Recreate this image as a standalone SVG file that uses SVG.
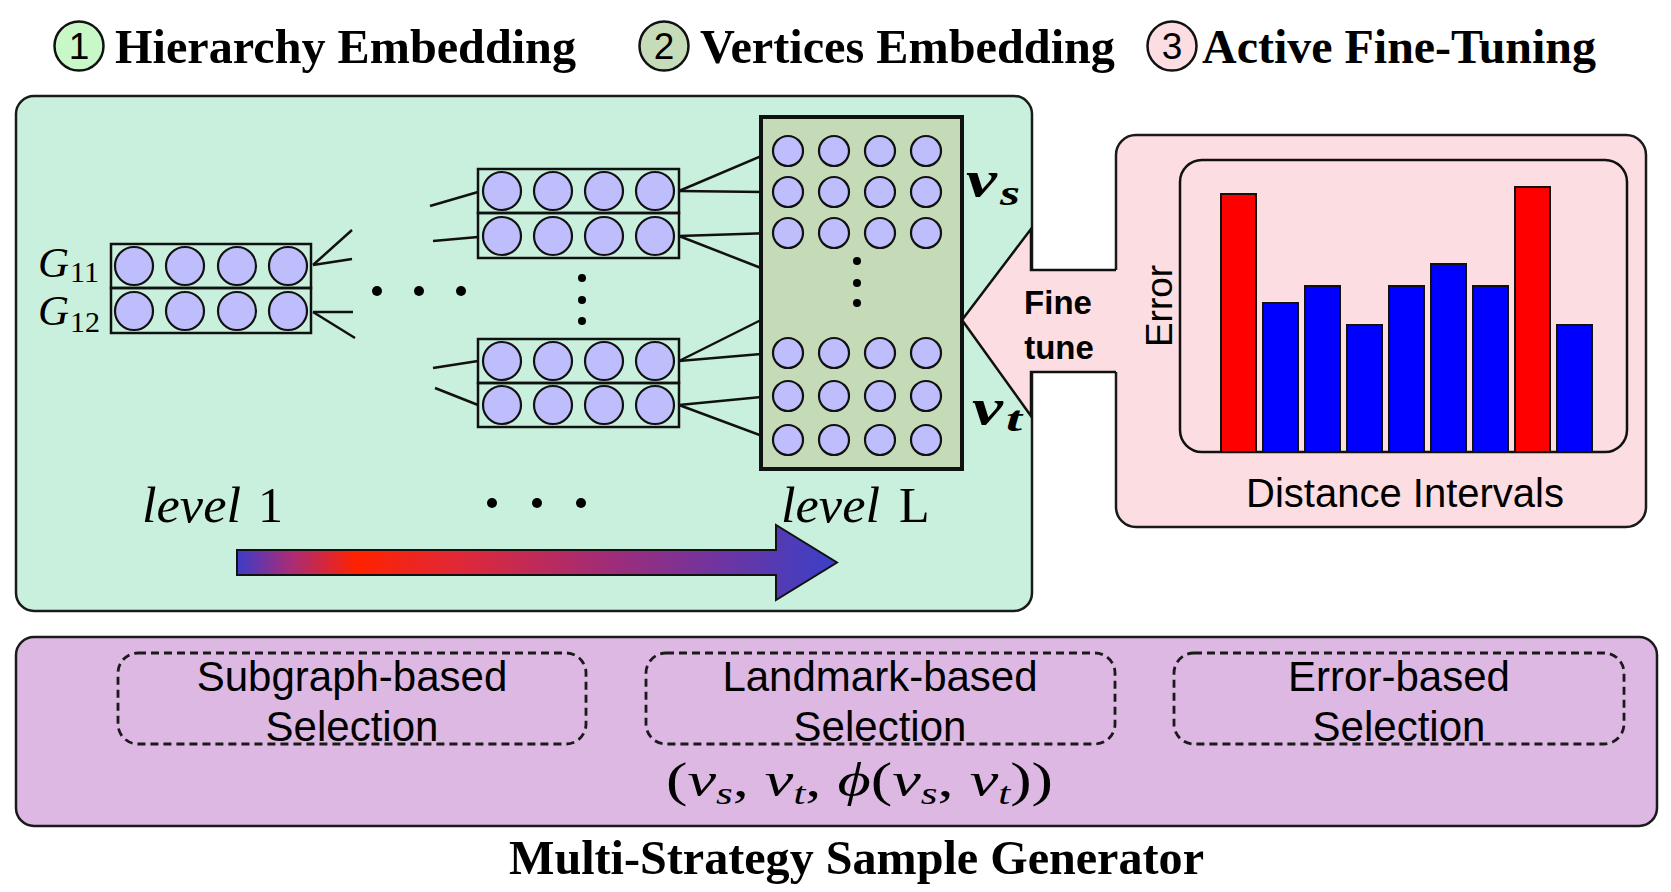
<svg xmlns="http://www.w3.org/2000/svg" width="1671" height="892" viewBox="0 0 1671 892">
<defs>
<linearGradient id="grad" gradientUnits="userSpaceOnUse" x1="237" y1="0" x2="837" y2="0">
<stop offset="0" stop-color="#3c3cc8"/>
<stop offset="0.09" stop-color="#a82c78"/>
<stop offset="0.2" stop-color="#ff2200"/>
<stop offset="0.37" stop-color="#e02838"/>
<stop offset="0.62" stop-color="#a02c78"/>
<stop offset="0.8" stop-color="#7034a0"/>
<stop offset="1" stop-color="#3a40c8"/>
</linearGradient>
<style>
.panel{stroke:#1a1a1a;stroke-width:2.5}
.row{fill:none;stroke:#111;stroke-width:2.5}
.nd{fill:#bebefc;stroke:#111;stroke-width:2.2}
.conn line{stroke:#111;stroke-width:2.5}
.dot{fill:#000}
.dash{fill:none;stroke:#1a1a1a;stroke-width:2.8;stroke-dasharray:8 5}
.bar{stroke:#111;stroke-width:2}
.ttl{font-family:"Liberation Serif",serif;font-weight:bold;font-size:48px;fill:#000}
.num{font-family:"Liberation Sans",sans-serif;font-size:37px;fill:#000;text-anchor:middle}
.sans{font-family:"Liberation Sans",sans-serif;fill:#000}
.serif{font-family:"Liberation Serif",serif;fill:#000}
.bi{font-family:"Liberation Serif",serif;font-weight:bold;font-style:italic;fill:#000}
</style>
</defs>
<rect width="1671" height="892" fill="#ffffff"/>

<g id="legend">
<circle cx="79" cy="46" r="24.5" fill="#c8f8c8" stroke="#111" stroke-width="2.5"/>
<text class="num" x="79" y="59">1</text>
<text class="ttl" x="115" y="63" textLength="461" lengthAdjust="spacingAndGlyphs">Hierarchy Embedding</text>
<circle cx="664" cy="46" r="24.5" fill="#c6dcb8" stroke="#111" stroke-width="2.5"/>
<text class="num" x="664" y="59">2</text>
<text class="ttl" x="700" y="63" textLength="415" lengthAdjust="spacingAndGlyphs">Vertices Embedding</text>
<circle cx="1172" cy="46" r="24.5" fill="#fcdde2" stroke="#111" stroke-width="2.5"/>
<text class="num" x="1172" y="59">3</text>
<text class="ttl" x="1202" y="63" textLength="394" lengthAdjust="spacingAndGlyphs">Active Fine-Tuning</text>
</g>

<g id="hierarchy-panel">
<rect class="panel" x="16" y="96" width="1016" height="515" rx="18" fill="#c9f0dc"/>
</g>

<g id="finetune-panel">
<rect class="panel" x="1116" y="135" width="530" height="392" rx="20" fill="#fcdde2"/>
<rect x="1180" y="160" width="447" height="292" rx="22" fill="none" stroke="#111" stroke-width="2.5"/>
<g id="bars">
<rect class="bar" x="1221" y="194" width="35" height="258" fill="#ff0000"/>
<rect class="bar" x="1263" y="303" width="35" height="149" fill="#0000ff"/>
<rect class="bar" x="1305" y="286" width="35" height="166" fill="#0000ff"/>
<rect class="bar" x="1347" y="325" width="35" height="127" fill="#0000ff"/>
<rect class="bar" x="1389" y="286" width="35" height="166" fill="#0000ff"/>
<rect class="bar" x="1431" y="264" width="35" height="188" fill="#0000ff"/>
<rect class="bar" x="1473" y="286" width="35" height="166" fill="#0000ff"/>
<rect class="bar" x="1515" y="187" width="35" height="265" fill="#ff0000"/>
<rect class="bar" x="1557" y="325" width="35" height="127" fill="#0000ff"/>
</g>
<text class="sans" x="0" y="0" font-size="37" text-anchor="middle" transform="translate(1172 306) rotate(-90)">Error</text>
<text class="sans" x="1405" y="507" font-size="40" text-anchor="middle">Distance Intervals</text>
</g>

<g id="fine-tune-arrow">
<polygon points="962,320 1031,229 1031,270 1120,270 1120,372 1031,372 1031,416" fill="#fcdde2"/>
<polyline points="1116,270 1031,270 1031,229 962,320 1031,416 1031,372 1116,372" fill="none" stroke="#111" stroke-width="2.5" stroke-linejoin="miter"/>
<text class="sans" x="1058" y="314" font-size="33" font-weight="bold" text-anchor="middle">Fine</text>
<text class="sans" x="1059" y="359" font-size="33" font-weight="bold" text-anchor="middle">tune</text>
</g>

<g class="conn" id="connectors">
<line x1="313" y1="265" x2="352" y2="230"/>
<line x1="313" y1="265" x2="352" y2="259"/>
<line x1="313" y1="312" x2="353" y2="312"/>
<line x1="313" y1="312" x2="355" y2="338"/>
<line x1="430" y1="206" x2="478" y2="192"/>
<line x1="433" y1="241" x2="478" y2="237"/>
<line x1="433" y1="368" x2="478" y2="361"/>
<line x1="435" y1="388" x2="478" y2="405"/>
<line x1="679" y1="191" x2="773" y2="151"/>
<line x1="679" y1="191" x2="773" y2="192"/>
<line x1="679" y1="236" x2="773" y2="233"/>
<line x1="679" y1="236" x2="761" y2="268"/>
<line x1="679" y1="361" x2="761" y2="320"/>
<line x1="679" y1="361" x2="773" y2="353"/>
<line x1="679" y1="405" x2="773" y2="396"/>
<line x1="679" y1="405" x2="773" y2="440"/>
</g>

<g id="level1-block">
<rect class="row" x="111" y="244" width="200" height="44"/>
<rect class="row" x="111" y="288" width="200" height="45"/>
<circle class="nd" cx="134" cy="266" r="19"/><circle class="nd" cx="185" cy="266" r="19"/><circle class="nd" cx="237" cy="266" r="19"/><circle class="nd" cx="288" cy="266" r="19"/>
<circle class="nd" cx="134" cy="311" r="19"/><circle class="nd" cx="185" cy="311" r="19"/><circle class="nd" cx="237" cy="311" r="19"/><circle class="nd" cx="288" cy="311" r="19"/>
<text class="serif" x="38" y="277" font-size="43" font-style="italic">G</text>
<text class="serif" x="70" y="282" font-size="30">11</text>
<text class="serif" x="38" y="325" font-size="43" font-style="italic">G</text>
<text class="serif" x="70" y="332" font-size="30">12</text>
</g>

<g id="dots">
<circle class="dot" cx="377" cy="291" r="5"/><circle class="dot" cx="419" cy="291" r="5"/><circle class="dot" cx="461" cy="291" r="5"/>
<circle class="dot" cx="582" cy="278" r="4"/><circle class="dot" cx="582" cy="300" r="4"/><circle class="dot" cx="582" cy="321" r="4"/>
<circle class="dot" cx="492" cy="503" r="5"/><circle class="dot" cx="537" cy="503" r="5"/><circle class="dot" cx="581" cy="503" r="5"/>
</g>

<g id="level2-upper">
<rect class="row" x="478" y="169" width="201" height="44"/>
<rect class="row" x="478" y="213" width="201" height="45"/>
<circle class="nd" cx="502" cy="191" r="19"/><circle class="nd" cx="553" cy="191" r="19"/><circle class="nd" cx="604" cy="191" r="19"/><circle class="nd" cx="655" cy="191" r="19"/>
<circle class="nd" cx="502" cy="236" r="19"/><circle class="nd" cx="553" cy="236" r="19"/><circle class="nd" cx="604" cy="236" r="19"/><circle class="nd" cx="655" cy="236" r="19"/>
</g>

<g id="level2-lower">
<rect class="row" x="478" y="339" width="201" height="44"/>
<rect class="row" x="478" y="383" width="201" height="44"/>
<circle class="nd" cx="502" cy="361" r="19"/><circle class="nd" cx="553" cy="361" r="19"/><circle class="nd" cx="604" cy="361" r="19"/><circle class="nd" cx="655" cy="361" r="19"/>
<circle class="nd" cx="502" cy="405" r="19"/><circle class="nd" cx="553" cy="405" r="19"/><circle class="nd" cx="604" cy="405" r="19"/><circle class="nd" cx="655" cy="405" r="19"/>
</g>

<g id="levelL-block">
<rect x="761" y="117" width="201" height="352" fill="#c5dbb8" stroke="#111" stroke-width="4"/>
<g>
<circle class="nd" cx="788" cy="151" r="15"/><circle class="nd" cx="834" cy="151" r="15"/><circle class="nd" cx="880" cy="151" r="15"/><circle class="nd" cx="926" cy="151" r="15"/>
<circle class="nd" cx="788" cy="192" r="15"/><circle class="nd" cx="834" cy="192" r="15"/><circle class="nd" cx="880" cy="192" r="15"/><circle class="nd" cx="926" cy="192" r="15"/>
<circle class="nd" cx="788" cy="233" r="15"/><circle class="nd" cx="834" cy="233" r="15"/><circle class="nd" cx="880" cy="233" r="15"/><circle class="nd" cx="926" cy="233" r="15"/>
<circle class="nd" cx="788" cy="353" r="15"/><circle class="nd" cx="834" cy="353" r="15"/><circle class="nd" cx="880" cy="353" r="15"/><circle class="nd" cx="926" cy="353" r="15"/>
<circle class="nd" cx="788" cy="396" r="15"/><circle class="nd" cx="834" cy="396" r="15"/><circle class="nd" cx="880" cy="396" r="15"/><circle class="nd" cx="926" cy="396" r="15"/>
<circle class="nd" cx="788" cy="440" r="15"/><circle class="nd" cx="834" cy="440" r="15"/><circle class="nd" cx="880" cy="440" r="15"/><circle class="nd" cx="926" cy="440" r="15"/>
</g>
<circle class="dot" cx="857" cy="261" r="4"/><circle class="dot" cx="857" cy="283" r="4"/><circle class="dot" cx="857" cy="303" r="4"/>
<text class="bi" x="966" y="196" font-size="50" textLength="31" lengthAdjust="spacingAndGlyphs">v</text>
<text class="bi" x="1000" y="205" font-size="36" textLength="20" lengthAdjust="spacingAndGlyphs">s</text>
<text class="bi" x="972" y="424" font-size="50" textLength="31" lengthAdjust="spacingAndGlyphs">v</text>
<text class="bi" x="1006" y="431" font-size="36" textLength="16" lengthAdjust="spacingAndGlyphs">t</text>
</g>

<g id="level-labels">
<text class="serif" x="142" y="522" font-size="50" font-style="italic" textLength="99" lengthAdjust="spacingAndGlyphs">level</text>
<text class="serif" x="258" y="522" font-size="50">1</text>
<text class="serif" x="781" y="522" font-size="50" font-style="italic" textLength="99" lengthAdjust="spacingAndGlyphs">level</text>
<text class="serif" x="899" y="522" font-size="50">L</text>
</g>

<g id="level-arrow">
<path d="M237,550 L776,550 L776,525 L837,562.5 L776,600 L776,575 L237,575 Z" fill="url(#grad)" stroke="#111" stroke-width="2"/>
</g>

<g id="sample-generator">
<rect class="panel" x="16" y="637" width="1641" height="189" rx="18" fill="#dcb8e2"/>
<rect class="dash" x="118" y="653" width="468" height="91" rx="20"/>
<rect class="dash" x="646" y="653" width="469" height="91" rx="20"/>
<rect class="dash" x="1174" y="653" width="450" height="91" rx="20"/>
<text class="sans" x="352" y="691" font-size="42" text-anchor="middle">Subgraph-based</text>
<text class="sans" x="352" y="741" font-size="42" text-anchor="middle">Selection</text>
<text class="sans" x="880" y="691" font-size="42" text-anchor="middle">Landmark-based</text>
<text class="sans" x="880" y="741" font-size="42" text-anchor="middle">Selection</text>
<text class="sans" x="1399" y="691" font-size="42" text-anchor="middle">Error-based</text>
<text class="sans" x="1399" y="741" font-size="42" text-anchor="middle">Selection</text>
<text class="serif" x="666" y="796" font-size="48" textLength="387" lengthAdjust="spacingAndGlyphs">(<tspan font-style="italic">v</tspan><tspan font-style="italic" font-size="32" dy="8">s</tspan><tspan dy="-8">, </tspan><tspan font-style="italic">v</tspan><tspan font-style="italic" font-size="32" dy="8">t</tspan><tspan dy="-8">, </tspan><tspan font-style="italic">ϕ</tspan>(<tspan font-style="italic">v</tspan><tspan font-style="italic" font-size="32" dy="8">s</tspan><tspan dy="-8">, </tspan><tspan font-style="italic">v</tspan><tspan font-style="italic" font-size="32" dy="8">t</tspan><tspan dy="-8">))</tspan></text>
</g>

<text class="ttl" x="509" y="874" textLength="695" lengthAdjust="spacingAndGlyphs">Multi-Strategy Sample Generator</text>
</svg>
